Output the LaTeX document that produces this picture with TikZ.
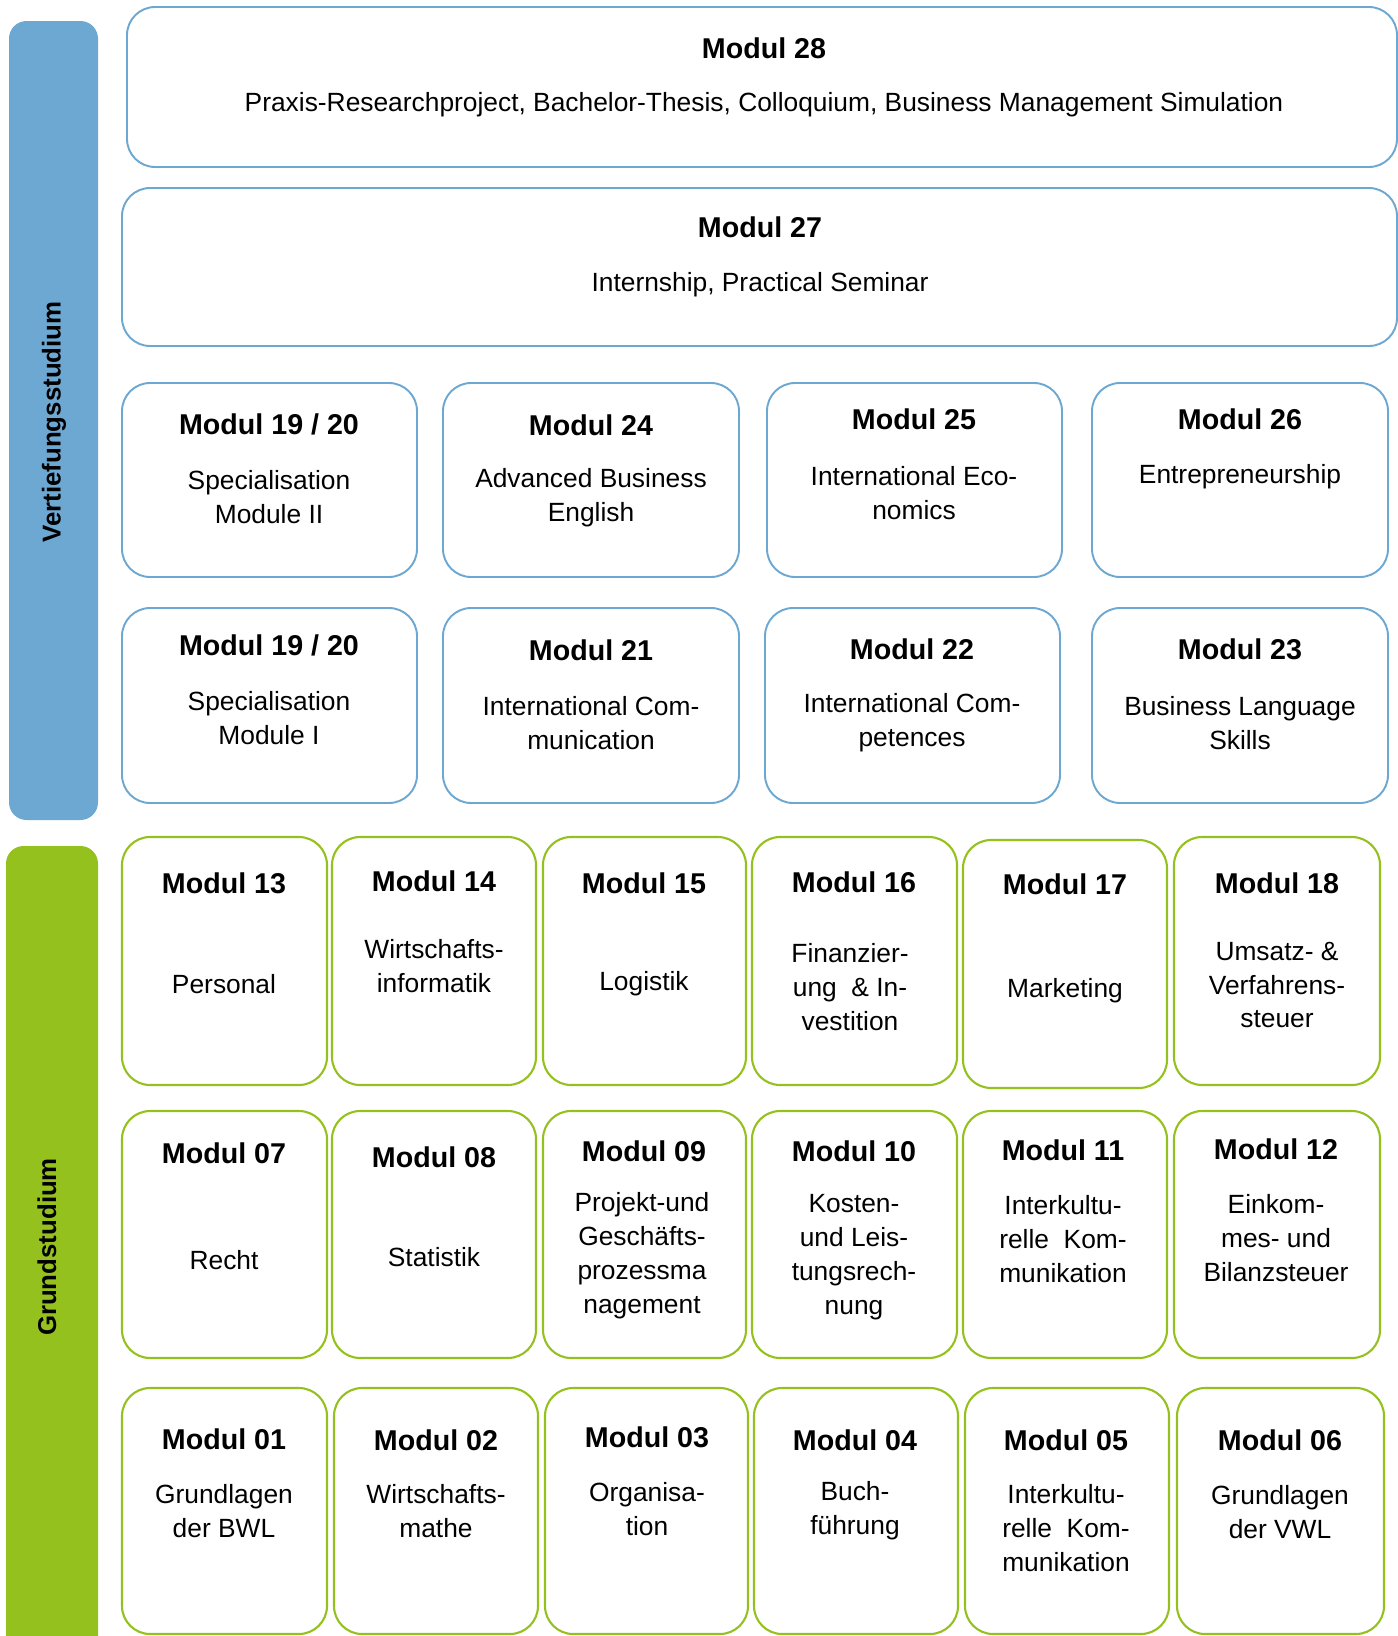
\documentclass[tikz,border=0pt]{standalone}
\usepackage{fontspec}
\setmainfont{Liberation Sans}
\usetikzlibrary{fit,positioning}
\definecolor{vtblue}{HTML}{6DA8D3}
\definecolor{gsgreen}{HTML}{95C11F}
\tikzset{
  vtbox/.style={draw=vtblue,line width=1.1pt,rounded corners=16pt,inner sep=0pt},
  gsbox/.style={draw=gsgreen,line width=1.2pt,rounded corners=16pt,inner sep=0pt},
  sidebar/.style={rounded corners=10pt,inner sep=0pt},
  modtitle/.style={font=\fontsize{16.3}{19}\selectfont\bfseries,text=black},
  moddesc/.style={font=\fontsize{15}{19.3}\selectfont,align=center,text=black},
  sidelabel/.style={font=\fontsize{14.7}{17}\selectfont\bfseries,rotate=90,text=black},
}

\begin{document}
\begin{tikzpicture}[x=0.02cm,y=-0.02cm]
  \path[use as bounding box] (0,0) rectangle (1398,1636);
  % side bars
  \node[sidebar,fill=vtblue,fit={(9,21) (98,820)}] (vtbar) {};
  \node[sidebar,fill=gsgreen,fit={(6,846) (98,1680)}] (gsbar) {};
  \node[sidelabel] (vtlabel) at (54,422) {Vertiefungsstudium};
  \node[sidelabel] (gslabel) at (47,1247) {Grundstudium};
  % Vertiefungsstudium
  \node[vtbox,fit={(127,7) (1397,167)}] (m28) {};
  \node[modtitle] (t28) at (764,48) {Modul 28};
  \node[moddesc] (d28) at (764,105) {Praxis-Researchproject, Bachelor-Thesis, Colloquium, Business Management Simulation};
  \node[vtbox,fit={(122,188) (1397,346)}] (m27) {};
  \node[modtitle] (t27) at (760,227) {Modul 27};
  \node[moddesc] (d27) at (760,285) {Internship, Practical Seminar};
  \node[vtbox,fit={(122,383) (417,577)}] (m1920b) {};
  \node[modtitle] (t1920b) at (269,424) {Modul 19 / 20};
  \node[moddesc] (d1920b) at (269,497) {Specialisation\\Module II};
  \node[vtbox,fit={(443,383) (739,577)}] (m24) {};
  \node[modtitle] (t24) at (591,425) {Modul 24};
  \node[moddesc] (d24) at (591,498) {Advanced Business\\English};
  \node[vtbox,fit={(767,383) (1062,577)}] (m25) {};
  \node[modtitle] (t25) at (914,419) {Modul 25};
  \node[moddesc] (d25) at (914,493) {International Eco-\\nomics};
  \node[vtbox,fit={(1092,383) (1388,577)}] (m26) {};
  \node[modtitle] (t26) at (1240,419) {Modul 26};
  \node[moddesc] (d26) at (1240,477) {Entrepreneurship};
  \node[vtbox,fit={(122,608) (417,803)}] (m1920a) {};
  \node[modtitle] (t1920a) at (269,645) {Modul 19 / 20};
  \node[moddesc] (d1920a) at (269,718) {Specialisation\\Module I};
  \node[vtbox,fit={(443,608) (739,803)}] (m21) {};
  \node[modtitle] (t21) at (591,650) {Modul 21};
  \node[moddesc] (d21) at (591,723) {International Com-\\munication};
  \node[vtbox,fit={(765,608) (1060,803)}] (m22) {};
  \node[modtitle] (t22) at (912,649) {Modul 22};
  \node[moddesc] (d22) at (912,723) {International Com-\\petences};
  \node[vtbox,fit={(1092,608) (1388,803)}] (m23) {};
  \node[modtitle] (t23) at (1240,649) {Modul 23};
  \node[moddesc] (d23) at (1240,723) {Business Language\\Skills};
  % Grundstudium, row 13-18
  \node[gsbox,fit={(122,837) (327,1085)}] (m13) {};
  \node[modtitle] (t13) at (224,883) {Modul 13};
  \node[moddesc] (d13) at (224,984) {Personal};
  \node[gsbox,fit={(332,837) (536,1085)}] (m14) {};
  \node[modtitle] (t14) at (434,881) {Modul 14};
  \node[moddesc] (d14) at (434,966) {Wirtschafts-\\informatik};
  \node[gsbox,fit={(543,837) (746,1085)}] (m15) {};
  \node[modtitle] (t15) at (644,883) {Modul 15};
  \node[moddesc] (d15) at (644,984) {Logistik};
  \node[gsbox,fit={(752,837) (957,1085)}] (m16) {};
  \node[modtitle] (t16) at (854,882) {Modul 16};
  \node[moddesc] (d16) at (850,987) {Finanzier-\\ung\ \ \& In-\\vestition};
  \node[gsbox,fit={(963,840) (1167,1088)}] (m17) {};
  \node[modtitle] (t17) at (1065,884) {Modul 17};
  \node[moddesc] (d17) at (1065,991) {Marketing};
  \node[gsbox,fit={(1174,837) (1380,1085)}] (m18) {};
  \node[modtitle] (t18) at (1277,883) {Modul 18};
  \node[moddesc] (d18) at (1277,985) {Umsatz- \&\\Verfahrens-\\steuer};
  % row 07-12
  \node[gsbox,fit={(122,1111) (327,1358)}] (m07) {};
  \node[modtitle] (t07) at (224,1153) {Modul 07};
  \node[moddesc] (d07) at (224,1260) {Recht};
  \node[gsbox,fit={(332,1111) (536,1358)}] (m08) {};
  \node[modtitle] (t08) at (434,1157) {Modul 08};
  \node[moddesc] (d08) at (434,1257) {Statistik};
  \node[gsbox,fit={(543,1111) (746,1358)}] (m09) {};
  \node[modtitle] (t09) at (644,1151) {Modul 09};
  \node[moddesc] (d09) at (642,1256) {Projekt-und\\Geschäfts-\\prozessma\\nagement};
  \node[gsbox,fit={(752,1111) (957,1358)}] (m10) {};
  \node[modtitle] (t10) at (854,1151) {Modul 10};
  \node[moddesc] (d10) at (854,1257) {Kosten-\\und Leis-\\tungsrech-\\nung};
  \node[gsbox,fit={(963,1111) (1167,1358)}] (m11) {};
  \node[modtitle] (t11) at (1063,1150) {Modul 11};
  \node[moddesc] (d11) at (1063,1239) {Interkultu-\\relle\ \ Kom-\\munikation};
  \node[gsbox,fit={(1174,1111) (1380,1358)}] (m12) {};
  \node[modtitle] (t12) at (1276,1149) {Modul 12};
  \node[moddesc] (d12) at (1276,1238) {Einkom-\\mes- und\\Bilanzsteuer};
  % row 01-06
  \node[gsbox,fit={(122,1388) (327,1634)}] (m01) {};
  \node[modtitle] (t01) at (224,1439) {Modul 01};
  \node[moddesc] (d01) at (224,1511) {Grundlagen\\der BWL};
  \node[gsbox,fit={(334,1388) (538,1634)}] (m02) {};
  \node[modtitle] (t02) at (436,1440) {Modul 02};
  \node[moddesc] (d02) at (436,1511) {Wirtschafts-\\mathe};
  \node[gsbox,fit={(545,1388) (748,1634)}] (m03) {};
  \node[modtitle] (t03) at (647,1437) {Modul 03};
  \node[moddesc] (d03) at (647,1509) {Organisa-\\tion};
  \node[gsbox,fit={(754,1388) (958,1634)}] (m04) {};
  \node[modtitle] (t04) at (855,1440) {Modul 04};
  \node[moddesc] (d04) at (855,1511) {Buch-\\führung};
  \node[gsbox,fit={(965,1388) (1169,1634)}] (m05) {};
  \node[modtitle] (t05) at (1066,1440) {Modul 05};
  \node[moddesc] (d05) at (1066,1528) {Interkultu-\\relle\ \ Kom-\\munikation};
  \node[gsbox,fit={(1177,1388) (1384,1634)}] (m06) {};
  \node[modtitle] (t06) at (1280,1440) {Modul 06};
  \node[moddesc] (d06) at (1280,1512) {Grundlagen\\der VWL};
\end{tikzpicture}
\end{document}
